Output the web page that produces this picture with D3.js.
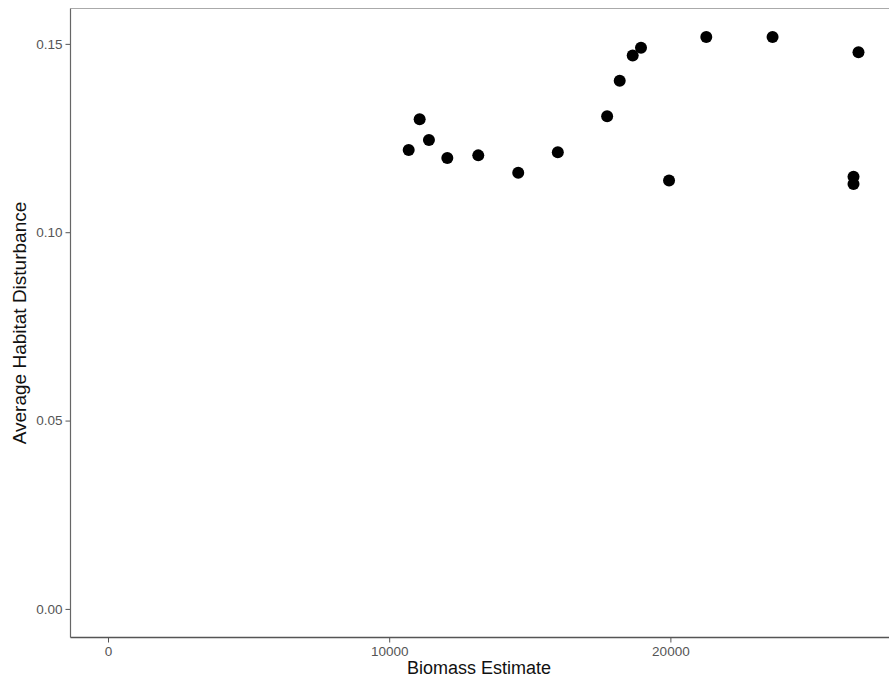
<!DOCTYPE html>
<html><head><meta charset="utf-8">
<script src="https://cdn.jsdelivr.net/npm/d3@7"></script>
<style>body{margin:0;background:#fff;}svg{display:block;font-family:"Liberation Sans",Arial,sans-serif;}</style>
</head><body>
<svg id="chart" width="889" height="680"></svg>
<script>
const biomass = [10693, 11083, 11414, 12067, 13168, 14589, 15997, 17751, 18198, 18660, 18955, 19953, 21277, 23634, 26690, 26513, 26513];
const disturbance = [0.1218, 0.1300, 0.1245, 0.1197, 0.1204, 0.1158, 0.1212, 0.1308, 0.1402, 0.1469, 0.1490, 0.1137, 0.1518, 0.1518, 0.1478, 0.1147, 0.1128];
const xTicks = [0, 10000, 20000];
const yTicks = [0.00, 0.05, 0.10, 0.15];

const svg = d3.select("#chart");
const mLeft = 70.5, mTop = 8.5, mBottom = 637.5, mRight = 896;
const x = d3.scaleLinear().domain([-1334, 28024]).range([mLeft, mRight]);
const y = d3.scaleLinear().domain([-0.00759, 0.15939]).range([mBottom, mTop]);

svg.append("rect").attr("width", 889).attr("height", 680).attr("fill", "#fff");

const xAxis = svg.append("g").attr("transform", `translate(0,${mBottom})`)
  .call(d3.axisBottom(x).tickValues(xTicks).tickFormat(d3.format("d")).tickSizeOuter(0).tickSize(5).tickPadding(4));
const yAxis = svg.append("g").attr("transform", `translate(${mLeft},0)`)
  .call(d3.axisLeft(y).tickValues(yTicks).tickFormat(d3.format(".2f")).tickSizeOuter(0).tickSize(5).tickPadding(3));
[xAxis, yAxis].forEach(g => {
  g.select(".domain").remove();
  g.selectAll(".tick line").attr("stroke", "#555");
  g.selectAll(".tick text").attr("fill", "#555").attr("font-size", 13.5);
});
// panel lines
svg.append("line").attr("x1", mLeft).attr("x2", 889).attr("y1", mTop).attr("y2", mTop)
  .attr("stroke", "#aaa").attr("stroke-width", 1);
svg.append("line").attr("x1", mLeft).attr("x2", mLeft).attr("y1", mTop).attr("y2", mBottom)
  .attr("stroke", "#666").attr("stroke-width", 1.2);
svg.append("line").attr("x1", mLeft).attr("x2", 889).attr("y1", mBottom).attr("y2", mBottom)
  .attr("stroke", "#555").attr("stroke-width", 1.4);

svg.append("g").selectAll("circle").data(biomass).join("circle")
  .attr("cx", (d) => x(d)).attr("cy", (d, i) => y(disturbance[i]))
  .attr("r", 6).attr("fill", "#000");

svg.append("text").attr("x", 479).attr("y", 674).attr("text-anchor", "middle")
  .attr("font-size", 18).attr("fill", "#111").text("Biomass Estimate");
svg.append("text").attr("transform", "translate(26,323) rotate(-90)").attr("text-anchor", "middle")
  .attr("font-size", 19).attr("fill", "#111").text("Average Habitat Disturbance");
</script>
</body></html>
